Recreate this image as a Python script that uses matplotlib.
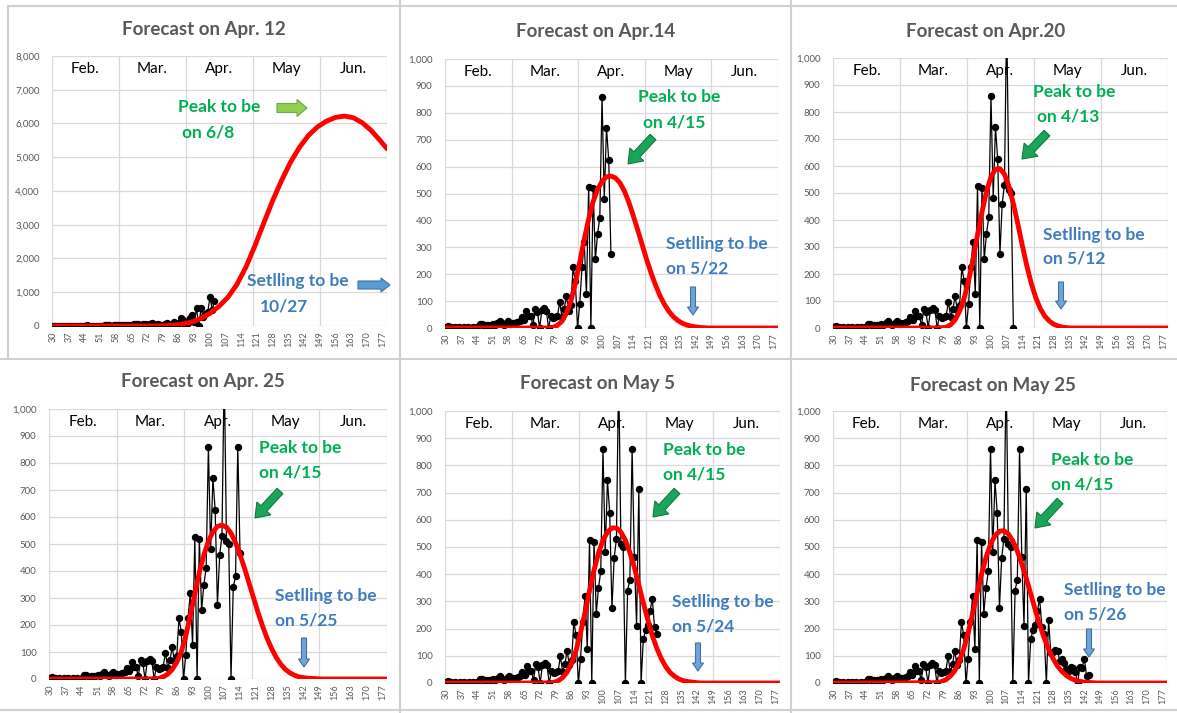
import matplotlib
matplotlib.use("Agg")
import matplotlib.pyplot as plt
from matplotlib.patches import FancyArrow

plt.rcParams['font.family'] = ['Lato', 'DejaVu Sans']

W, H = 1177, 713

# daily counts, day 30 .. 144
first_day = 30
daily = [5, 8, 5, 0, 3, 0, 3, 0, 4, 0,
         2, 0, 2, 0, 3, 15, 14, 8, 10, 12,
         10, 14, 12, 18, 25, 15, 12, 20, 26, 16,
         18, 20, 22, 25, 40, 30, 62, 45, 45, 10,
         70, 58, 0, 68, 75, 65, 0, 45, 38, 40,
         45, 98, 40, 70, 118, 65, 85, 225, 175, 0,
         90, 225, 320, 125, 525, 0, 520, 255, 350, 410,
         860, 480, 745, 625, 275, 460, 530, 1150, 510, 500,
         0, 340, 380, 860, 465, 210, 715, 0, 160, 195,
         215, 265, 310, 205, 180, 0, 230, 110, 115, 120,
         118, 80, 90, 75, 50, 45, 60, 55, 40, 0,
         60, 55, 90, 25, 30]

# last day of data available at each forecast date
last_day = [102, 104, 110, 114, 124, 144]

months = ['Feb.', 'Mar.', 'Apr.', 'May', 'Jun.']
month_edges = [29.5, 59.4, 89.3, 119.2, 149.1, 179.0]

# fitted curves (red)
fit_days_apr12 = [30] + list(range(76, 180, 4)) + [179]
fit_apr12 = [0, 2, 8, 25, 60, 120, 220, 380, 580, 850, 1230, 1740, 2370, 3050,
             3720, 4320, 4860, 5300, 5650, 5900, 6070, 6180, 6220, 6170, 6020,
             5790, 5490, 5250]

fit_days = [30] + list(range(74, 152, 2)) + [179]
fit_apr14 = [0, 0, 0, 2, 10, 25, 55, 100, 165, 245, 330, 405, 470, 515, 545, 562,
             565, 558, 540, 510, 468, 418, 365, 310, 255, 205, 160, 120, 88, 62,
             42, 28, 18, 11, 7, 4, 2, 1, 0, 0, 0]
fit_apr20 = [0, 0, 0, 1, 3, 12, 30, 62, 110, 175, 255, 345, 430, 505, 560, 588,
             590, 570, 525, 460, 385, 305, 230, 165, 112, 72, 44, 26, 14, 7,
             3, 1, 0, 0, 0, 0, 0, 0, 0, 0, 0]
fit_apr25 = [0, 0, 1, 2, 8, 18, 35, 62, 100, 160, 235, 315, 395, 460, 510, 545,
             565, 570, 562, 540, 505, 460, 410, 355, 300, 245, 195, 150, 112, 80,
             55, 36, 23, 14, 8, 5, 3, 2, 1, 0, 0]
fit_may5 = [0, 0, 1, 2, 8, 20, 40, 72, 120, 185, 260, 340, 415, 478, 525, 555,
            570, 570, 555, 525, 480, 425, 360, 295, 232, 175, 128, 90, 60, 38,
            24, 14, 8, 5, 3, 1, 0, 0, 0, 0, 0]
fit_may25 = [0, 1, 2, 5, 12, 25, 45, 78, 125, 185, 255, 330, 400, 462, 510, 542,
             558, 560, 548, 522, 485, 438, 385, 328, 270, 215, 166, 124, 90, 62,
             42, 27, 17, 10, 6, 3, 2, 1, 0, 0, 0]

titles = ['Forecast on Apr. 12', 'Forecast on Apr.14', 'Forecast on Apr.20',
          'Forecast on Apr. 25', 'Forecast on May 5', 'Forecast on May 25']
peak_text = ['on 6/8', 'on 4/15', 'on 4/13', 'on 4/15', 'on 4/15', 'on 4/15']
settle_text = ['10/27', 'on 5/22', 'on 5/12', 'on 5/25', 'on 5/24', 'on 5/26']

fits = [(fit_days_apr12, fit_apr12), (fit_days, fit_apr14), (fit_days, fit_apr20),
        (fit_days, fit_apr25), (fit_days, fit_may5), (fit_days, fit_may25)]

# layout in pixels: plot boxes (x0, y0, x1, y1), y measured from top
boxes = [(52, 56, 387, 326), (445, 59, 778, 328), (833, 58, 1168, 328),
         (49, 409, 387, 679), (445, 411, 780, 683), (833, 411, 1167, 683)]
title_pos = [(204, 30), (596, 32), (986, 32), (203, 382), (597, 384), (993, 385)]
peak_pos = [(178, 107, 182, 132), (638, 97, 643, 122), (1033, 92, 1037, 116),
            (259, 448, 259, 473), (663, 450, 663, 475), (1051, 460, 1051, 485)]
settle_pos = [(247, 281, 260, 306), (666, 244, 666, 269), (1043, 235, 1043, 259),
              (275, 596, 275, 620), (672, 602, 672, 627), (1064, 590, 1064, 615)]
green_arrows = [(653, 137, 628, 164), (1047, 133, 1022, 159), (280, 491, 255, 518),
                (677, 491, 653, 517), (1060, 501, 1035, 528)]
blue_arrows = [(693, 287, 315), (1061, 282, 309), (304, 638, 667),
               (698, 643, 671), (1089, 629, 657)]

GREEN = '#00B050'
BLUE = '#3F7CBF'
GRID = '#D9D9D9'
LABEL = '#595959'

fig = plt.figure(figsize=(W / 100, H / 100), dpi=100)
fig.patch.set_facecolor('white')

for i, (x0, y0, x1, y1) in enumerate(boxes):
    ax = fig.add_axes([x0 / W, 1 - y1 / H, (x1 - x0) / W, (y1 - y0) / H])
    ymax, step = (8000, 1000) if i == 0 else (1000, 100)
    ax.set_xlim(month_edges[0], month_edges[-1])
    ax.set_ylim(0, ymax)
    for s in ax.spines.values():
        s.set_visible(False)
    yt = list(range(0, ymax + 1, step))
    ax.set_yticks(yt)
    ax.set_yticklabels([f'{v:,}' for v in yt], fontsize=7, color=LABEL)
    xt = list(range(30, 178, 7))
    ax.set_xticks(xt)
    ax.set_xticklabels([str(v) for v in xt], fontsize=6.5, color=LABEL, rotation=90)
    ax.tick_params(axis='y', length=0, pad=9)
    ax.tick_params(axis='x', length=0, pad=4)
    for v in yt:
        ax.axhline(v, color=GRID, lw=0.9, zorder=0)
    for e in month_edges:
        ax.axvline(e, color=GRID, lw=0.9, zorder=0)
    for k, m in enumerate(months):
        xc = (month_edges[k] + month_edges[k + 1]) / 2
        ax.text(xc, ymax * 0.953, m, ha='center', va='center', fontsize=11, color='black')

    n = last_day[i] - first_day + 1
    days = list(range(first_day, first_day + n))
    ax.plot(days, daily[:n], color='black', lw=0.9, marker='o', ms=4.3, zorder=3)
    fx, fy = fits[i]
    ax.plot(fx, fy, color='red', lw=3.5, zorder=4, solid_capstyle='round',
            solid_joinstyle='round')

# overlay in pixel coordinates for titles, notes, arrows and frames
ov = fig.add_axes([0, 0, 1, 1])
ov.set_xlim(0, W)
ov.set_ylim(H, 0)
ov.axis('off')

for x, y0, y1 in [(8, 6, 358), (400, 0, H), (791, 0, H)]:
    ov.plot([x, x], [y0, y1], color='#D0D0D0', lw=1.5)
for y, x0, x1 in [(6, 8, W), (359, 0, W), (710, 0, W)]:
    ov.plot([x0, x1], [y, y], color='#D0D0D0', lw=1.5)

for i in range(6):
    tx, ty = title_pos[i]
    ov.text(tx, ty, titles[i], ha='center', va='center', fontsize=13.5,
            fontweight='bold', color=LABEL)
    px, py, px2, py2 = peak_pos[i]
    ov.text(px, py, 'Peak to be', ha='left', va='center', fontsize=12.5,
            fontweight='bold', color=GREEN)
    ov.text(px2, py2, peak_text[i], ha='left', va='center', fontsize=12.5,
            fontweight='bold', color=GREEN)
    sx, sy, sx2, sy2 = settle_pos[i]
    ov.text(sx, sy, 'Setlling to be', ha='left', va='center', fontsize=12.5,
            fontweight='bold', color=BLUE)
    ov.text(sx2, sy2, settle_text[i], ha='left', va='center', fontsize=12.5,
            fontweight='bold', color=BLUE)

# first panel: arrows pointing right
ov.add_patch(FancyArrow(277, 108, 30, 0, width=9, head_width=17, head_length=10,
                        length_includes_head=True, fc='#92D050', ec='#6AA84F', lw=0.8))
ov.add_patch(FancyArrow(358, 285, 32, 0, width=8, head_width=14, head_length=9,
                        length_includes_head=True, fc='#5B9BD5', ec='#41719C', lw=0.8))

for (x0, y0, x1, y1) in green_arrows:
    ov.add_patch(FancyArrow(x0, y0, x1 - x0, y1 - y0, width=8, head_width=19,
                            head_length=13, length_includes_head=True,
                            fc='#1BA55A', ec='#117A40', lw=0.8))
for (x, y0, y1) in blue_arrows:
    ov.add_patch(FancyArrow(x, y0, 0, y1 - y0, width=5, head_width=11,
                            head_length=8, length_includes_head=True,
                            fc='#6FA3DA', ec='#41719C', lw=0.8))

fig.savefig('out.png', dpi=100)
